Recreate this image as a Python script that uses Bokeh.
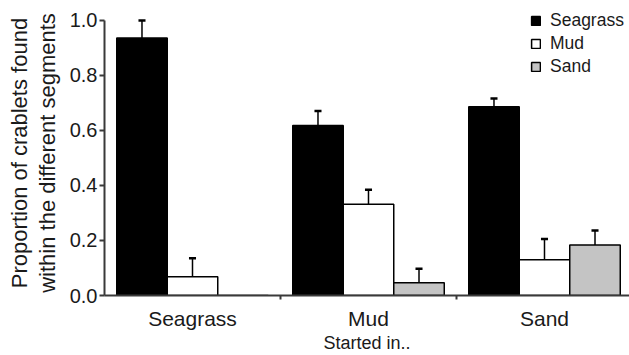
from bokeh.plotting import figure
from bokeh.models import FixedTicker, Legend, LegendItem, Range1d
from bokeh.embed import file_html
from bokeh.resources import INLINE

groups = ["Seagrass", "Mud", "Sand"]
series = ["Seagrass", "Mud", "Sand"]
seagrass = [0.936, 0.618, 0.686]
seagrass_err = [0.064, 0.053, 0.030]
mud = [0.068, 0.332, 0.130]
mud_err = [0.067, 0.052, 0.075]
sand = [0.0, 0.046, 0.184]
sand_err = [0.0, 0.051, 0.052]
y_ticks = [0.0, 0.2, 0.4, 0.6, 0.8, 1.0]

FONT = "Liberation Sans"
TXT = "#1a1a1a"
AX = "#3a3a3a"

p = figure(width=629, height=355, output_backend="svg", toolbar_location=None,
           x_range=Range1d(0, 2.983), y_range=Range1d(0, 1.036))
p.min_border_left = 104
p.min_border_right = 0
p.min_border_top = 10
p.min_border_bottom = 59
p.outline_line_color = None
p.xgrid.visible = False
p.ygrid.visible = False
p.background_fill_color = "white"
p.border_fill_color = "white"

bw = 0.287
offsets = [-bw, 0.0, bw]
fills = ["black", "white", "#c4c4c4"]
vals = [seagrass, mud, sand]
errs = [seagrass_err, mud_err, sand_err]
cap = 0.02

renderers = []
for k in range(3):
    xs = [i + 0.5 + offsets[k] for i in range(len(groups))]
    tops = vals[k]
    r = p.vbar(x=xs, top=tops, width=bw, bottom=0, fill_color=fills[k],
               line_color="black", line_width=1.5)
    renderers.append(r)
    ex = [x for x, e in zip(xs, errs[k]) if e > 0]
    ey0 = [t for t, e in zip(tops, errs[k]) if e > 0]
    ey1 = [t + e for t, e in zip(tops, errs[k]) if e > 0]
    p.segment(x0=ex, y0=ey0, x1=ex, y1=ey1, line_color="black", line_width=1.5)
    p.segment(x0=[x - cap for x in ex], y0=ey1, x1=[x + cap for x in ex], y1=ey1,
              line_color="black", line_width=2.5)

# axes
p.yaxis.ticker = FixedTicker(ticks=y_ticks)
p.yaxis.bounds = (0, 1.0)
p.yaxis.major_label_overrides = {t: f"{t:.1f}" for t in y_ticks}
p.yaxis.minor_tick_line_color = None
p.yaxis.major_tick_in = 0
p.yaxis.major_tick_out = 5
p.yaxis.major_label_standoff = 2
p.yaxis.axis_label = "Proportion of crablets found\nwithin the different segments"
p.yaxis.axis_label_text_font = FONT
p.yaxis.axis_label_text_font_size = "22px"
p.yaxis.axis_label_text_font_style = "normal"
p.yaxis.axis_label_text_color = TXT
p.yaxis.axis_label_text_line_height = 1.12
p.yaxis.axis_label_standoff = 7

p.xaxis.ticker = FixedTicker(ticks=[0.5, 1.5, 2.5], minor_ticks=[1.0, 2.0])
p.xaxis.major_label_overrides = {0.5: groups[0], 1.5: groups[1], 2.5: groups[2]}
p.xaxis.major_tick_in = 0
p.xaxis.major_tick_out = 0
p.xaxis.minor_tick_in = 0
p.xaxis.minor_tick_out = 4
p.xaxis.major_label_standoff = 7
p.xaxis.major_label_text_font_size = "21px"
p.xaxis.axis_label = "Started in.."
p.xaxis.axis_label_text_font = FONT
p.xaxis.axis_label_text_font_size = "18px"
p.xaxis.axis_label_text_font_style = "normal"
p.xaxis.axis_label_text_color = TXT
p.xaxis.axis_label_standoff = 0

for ax in (p.xaxis, p.yaxis):
    ax.axis_line_color = AX
    ax.axis_line_width = 2
    ax.major_tick_line_color = AX
    ax.major_tick_line_width = 2
    ax.minor_tick_line_color = AX
    ax.minor_tick_line_width = 2
    ax.major_label_text_font = FONT
    ax.major_label_text_color = TXT
p.yaxis.major_label_text_font_size = "20px"

legend = Legend(items=[LegendItem(label=series[k], renderers=[renderers[k]]) for k in range(3)],
                location=(426, 218))
legend.label_text_font = FONT
legend.label_text_font_size = "17.5px"
legend.label_text_color = TXT
legend.glyph_width = 11
legend.glyph_height = 11
legend.label_standoff = 9
legend.label_height = 20
legend.spacing = 2
legend.padding = 0
legend.margin = 0
legend.border_line_color = None
legend.background_fill_alpha = 0
p.add_layout(legend)

open("out.html", "w").write(file_html(p, INLINE))
